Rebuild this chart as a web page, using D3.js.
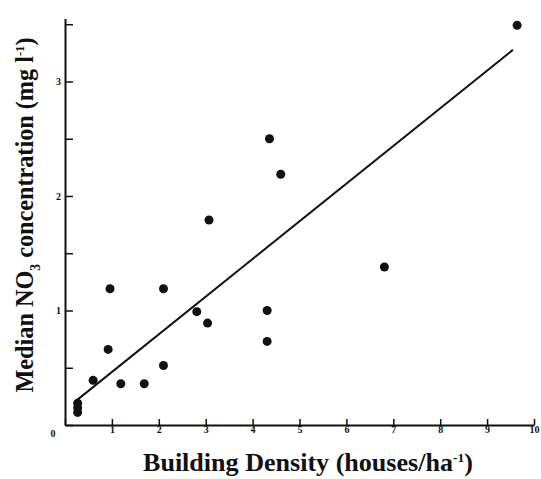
<!DOCTYPE html>
<html>
<head>
<meta charset="utf-8">
<script src="https://cdn.jsdelivr.net/npm/d3@7"></script>
<style>
html,body{margin:0;padding:0;background:#fff;}
svg{display:block;}
text{font-family:"Liberation Serif","DejaVu Serif",serif;fill:#111;}
</style>
</head>
<body>
<svg id="chart" width="541" height="479"></svg>
<script>
// Building density (houses/ha) and median NO3 concentration (mg/l)
const density = [9.64, 4.36, 4.60, 3.07, 6.81, 0.96, 2.10, 2.81, 3.04, 4.31, 4.31, 0.92, 2.10, 0.60, 1.19, 1.69, 0.27, 0.27, 0.27];
const nitrate = [3.49, 2.50, 2.19, 1.79, 1.38, 1.19, 1.19, 0.99, 0.89, 1.00, 0.73, 0.66, 0.52, 0.39, 0.36, 0.36, 0.19, 0.15, 0.11];
// Regression line (intercept, slope) and its drawn x range
const fitIntercept = 0.134;
const fitSlope = 0.329;
const fitRange = [0.26, 9.55];
const xTicks = [0, 1, 2, 3, 4, 5, 6, 7, 8, 9, 10];
const yTicks = [0, 0.5, 1, 1.5, 2, 2.5, 3, 3.5];
const yTickLabels = [1, 2, 3];
const xTitle = "Building Density (houses/ha";
const yTitle = "Median NO";

const svg = d3.select("#chart");
const x = d3.scaleLinear().domain([0, 10]).range([65, 534]);
const y = d3.scaleLinear().domain([0, 3.55]).range([425, 18.5]);

const ink = "#111";

// x axis (ticks inward)
const xAxis = d3.axisBottom(x).tickValues(xTicks).tickSize(0).tickFormat(d => d === 0 ? "" : d);
const gx = svg.append("g").attr("transform", `translate(0,${y(0)})`).call(xAxis);
gx.select(".domain").attr("stroke", ink).attr("stroke-width", 2);
gx.selectAll(".tick text").attr("dy", "0.2em").attr("y", 6).style("font-size", "10px").style("font-weight", "bold").attr("fill", ink);
gx.selectAll(".tick").append("line").attr("y1", 0).attr("y2", -6).attr("stroke", ink).attr("stroke-width", 1.5);

// y axis (ticks inward)
const yAxis = d3.axisLeft(y).tickValues(yTicks).tickSize(0).tickFormat(d => yTickLabels.includes(d) ? d : "");
const gy = svg.append("g").attr("transform", `translate(${x(0)},0)`).call(yAxis);
gy.select(".domain").attr("stroke", ink).attr("stroke-width", 2);
gy.selectAll(".tick text").attr("x", -4).style("font-size", "10px").style("font-weight", "bold").attr("fill", ink);
gy.selectAll(".tick").append("line").attr("x1", 0).attr("x2", 8).attr("stroke", ink).attr("stroke-width", 1.5);

// corner zero
svg.append("text").attr("x", x(0) - 12).attr("y", y(0) + 12)
  .attr("text-anchor", "middle").style("font-size", "10px").style("font-weight", "bold").text("0");

// regression line
svg.append("line")
  .attr("x1", x(fitRange[0])).attr("y1", y(fitIntercept + fitSlope * fitRange[0]))
  .attr("x2", x(fitRange[1])).attr("y2", y(fitIntercept + fitSlope * fitRange[1]))
  .attr("stroke", ink).attr("stroke-width", 2);

// points
svg.append("g").selectAll("circle")
  .data(density.map((d, i) => [d, nitrate[i]]))
  .join("circle")
  .attr("cx", d => x(d[0])).attr("cy", d => y(d[1]))
  .attr("r", 4.5).attr("fill", ink);

// x title
const xt = svg.append("text").attr("x", 308).attr("y", 471)
  .attr("text-anchor", "middle").style("font-size", "25px").style("font-weight", "bold")
  .attr("textLength", 330).attr("lengthAdjust", "spacingAndGlyphs");
xt.append("tspan").text(xTitle);
xt.append("tspan").attr("dy", -9).style("font-size", "13px").text("-1");
xt.append("tspan").attr("dy", 9).text(")");

// y title
const yt = svg.append("text").attr("transform", `translate(33,215) rotate(-90)`)
  .attr("text-anchor", "middle").style("font-size", "25px").style("font-weight", "bold")
  .attr("textLength", 355).attr("lengthAdjust", "spacingAndGlyphs");
yt.append("tspan").text(yTitle);
yt.append("tspan").attr("dy", 7).style("font-size", "14px").text("3");
yt.append("tspan").attr("dy", -7).text(" concentration (mg l");
yt.append("tspan").attr("dy", -9).style("font-size", "13px").text("-1");
yt.append("tspan").attr("dy", 9).text(")");
</script>
</body>
</html>
